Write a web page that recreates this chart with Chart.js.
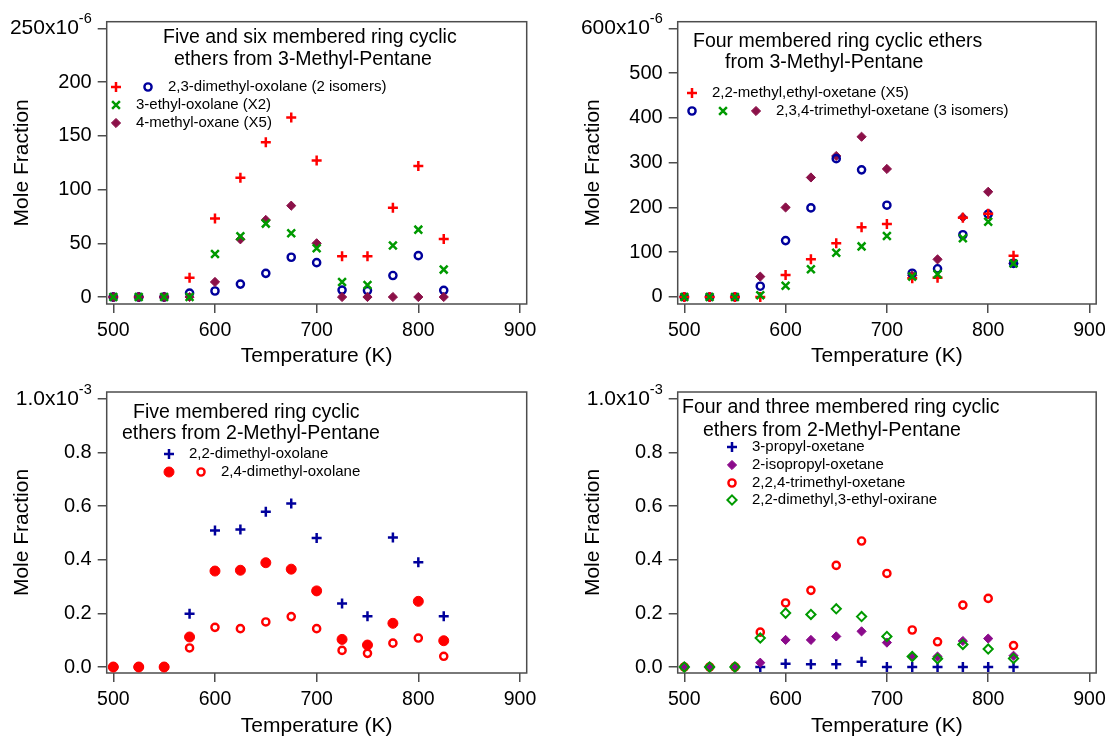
<!DOCTYPE html>
<html>
<head>
<meta charset="utf-8">
<script src="https://cdn.jsdelivr.net/npm/chart.js@4.4.1/dist/chart.umd.min.js"></script>
<style>
  body { margin: 0; background: #fff; }
  #wrap { position: relative; width: 1112px; height: 740px; }
  #wrap canvas { position: absolute; }
</style>
</head>
<body>
<div id="wrap">
  <canvas id="c1" width="556" height="370" style="left:0;top:0"></canvas>
  <canvas id="c2" width="556" height="370" style="left:556px;top:0"></canvas>
  <canvas id="c3" width="556" height="370" style="left:0;top:370px"></canvas>
  <canvas id="c4" width="556" height="370" style="left:556px;top:370px"></canvas>
</div>
<script>
// temperatures (K), shared by all panels
const temps = [500, 525, 550, 575, 600, 625, 650, 675, 700, 725, 750, 775, 800, 825];
const xTicks = [500, 600, 700, 800, 900];

// panel 1 : 3-methyl-pentane, five/six ring (x10^-6)
const p1Dimethyl1 = [0, 0, 0, 18, 73, 111, 144, 167, 127, 38, 38, 83, 122, 54];
const p1Dimethyl2 = [0, 0, 0, 3.7, 5.6, 12, 22, 37, 32, 6.5, 6, 20, 38.5, 6.2];
const p1EthylOxolane = [0, 0, 0, 0, 40, 56.5, 68.3, 59.3, 45.3, 14, 11.2, 48, 62.7, 25.5];
const p1MethylOxane = [0, 0, 0, 0, 14, 53.7, 71.7, 85, 50, 0, 0, 0, 0, 0];
const p1YTicks = [0, 50, 100, 150, 200, 250];

// panel 2 : 3-methyl-pentane, four ring (x10^-6)
const p2MethylEthyl = [0, 0, 0, 0, 49, 84, 120, 156, 163, 42, 43, 177, 186, 92];
const p2Trimethyl1 = [0, 0, 0, 24, 126, 199, 309, 284, 205, 53, 63, 139, 185, 75];
const p2Trimethyl2 = [0, 0, 0, 3.7, 25, 62, 99, 113, 136, 45.5, 51, 131, 168, 75];
const p2Trimethyl3 = [0, 0, 0, 45.5, 200, 267, 315, 358, 286, 48, 84, 178, 235, 75];
const p2YTicks = [0, 100, 200, 300, 400, 500, 600];

// panel 3 : 2-methyl-pentane, five ring (x10^-3)
const p3Dimethyl22 = [0, 0, 0, 0.199, 0.509, 0.513, 0.579, 0.61, 0.481, 0.237, 0.189, 0.483, 0.391, 0.189];
const p3Dimethyl24a = [0, 0, 0, 0.112, 0.358, 0.361, 0.389, 0.365, 0.284, 0.103, 0.082, 0.163, 0.245, 0.098];
const p3Dimethyl24b = [0, 0, 0, 0.071, 0.148, 0.143, 0.168, 0.188, 0.143, 0.062, 0.051, 0.089, 0.108, 0.04];
const lowYTicks = [0, 0.2, 0.4, 0.6, 0.8, 1.0];

// panel 4 : 2-methyl-pentane, four/three ring (x10^-3)
const p4Propyl = [0, 0, 0, 0, 0.012, 0.01, 0.01, 0.02, 0, 0, 0, 0, 0, 0];
const p4Isopropyl = [0, 0, 0, 0.016, 0.101, 0.101, 0.114, 0.133, 0.091, 0.039, 0.039, 0.097, 0.106, 0.042];
const p4Trimethyl = [0, 0, 0, 0.13, 0.239, 0.286, 0.379, 0.47, 0.349, 0.138, 0.094, 0.231, 0.256, 0.08];
const p4Oxirane = [0, 0, 0, 0.108, 0.201, 0.196, 0.217, 0.188, 0.114, 0.039, 0.031, 0.084, 0.067, 0.032];

const RED = '#ff0000', BLUE = '#00009c', GREEN = '#009a00', MAROON = '#8b1048', PURPLE = '#8b0a8b';
const FONT = '"Liberation Sans", Arial, sans-serif';

// marker looks
const mk = {
  plus:    c => ({ pointStyle: 'cross', pointRadius: 5, borderWidth: 2.5, borderColor: c, backgroundColor: c }),
  circle:  c => ({ pointStyle: 'circle', pointRadius: 3.6, borderWidth: 2.4, borderColor: c, backgroundColor: 'rgba(0,0,0,0)' }),
  dot:     c => ({ pointStyle: 'circle', pointRadius: 5, borderWidth: 1, borderColor: c, backgroundColor: c }),
  cross:   c => ({ pointStyle: 'crossRot', pointRadius: 5.5, borderWidth: 2.5, borderColor: c, backgroundColor: c }),
  diamond: c => ({ pointStyle: 'rectRot', pointRadius: 4.6, borderWidth: 1, borderColor: c, backgroundColor: c }),
  odiamond: c => ({ pointStyle: 'rectRot', pointRadius: 4.6, borderWidth: 2, borderColor: c, backgroundColor: 'rgba(0,0,0,0)' })
};

function series(values, look, color) {
  return Object.assign({
    data: temps.map((t, i) => ({ x: t, y: values[i] })),
    showLine: false,
    pointHoverRadius: 5
  }, mk[look](color));
}

// legend marker drawn by hand, same shapes as the datasets
function drawMarker(ctx, look, color, x, y) {
  const s = mk[look](color);
  const r = s.pointRadius;
  ctx.save();
  ctx.lineWidth = s.borderWidth;
  ctx.strokeStyle = s.borderColor;
  ctx.fillStyle = s.backgroundColor;
  ctx.beginPath();
  if (s.pointStyle === 'cross') {
    ctx.moveTo(x - r, y); ctx.lineTo(x + r, y);
    ctx.moveTo(x, y - r); ctx.lineTo(x, y + r);
    ctx.stroke();
  } else if (s.pointStyle === 'crossRot') {
    const d = r * Math.SQRT1_2;
    ctx.moveTo(x - d, y - d); ctx.lineTo(x + d, y + d);
    ctx.moveTo(x - d, y + d); ctx.lineTo(x + d, y - d);
    ctx.stroke();
  } else if (s.pointStyle === 'rectRot') {
    ctx.moveTo(x, y - r); ctx.lineTo(x + r, y); ctx.lineTo(x, y + r); ctx.lineTo(x - r, y);
    ctx.closePath(); ctx.fill(); ctx.stroke();
  } else {
    ctx.arc(x, y, r, 0, Math.PI * 2);
    ctx.fill(); ctx.stroke();
  }
  ctx.restore();
}

const decorPlugin = {
  id: 'decor',
  beforeDatasetsDraw(chart) {
    const { ctx, chartArea: a } = chart;
    ctx.save();
    ctx.strokeStyle = '#4d4d4d';
    ctx.lineWidth = 1.5;
    ctx.strokeRect(a.left, a.top, a.right - a.left, a.bottom - a.top);
    ctx.restore();
  },
  afterDraw(chart) {
    const { ctx } = chart;
    const d = chart.options.plugins.decor;
    ctx.save();
    ctx.fillStyle = '#000';
    ctx.textBaseline = 'middle';
    ctx.textAlign = 'left';
    ctx.font = '19.5px ' + FONT;
    d.title.forEach(l => ctx.fillText(l.text, l.x, l.y));
    ctx.font = '15px ' + FONT;
    d.legend.forEach(row => {
      row.marks.forEach(m => drawMarker(ctx, m.look, m.color, m.x, row.y));
      ctx.fillText(row.text, row.x, row.y);
    });
    // top y tick label with exponent
    const ys = chart.scales.y;
    const top = ys.getPixelForValue(d.topTick);
    const right = ys.right - 9 - 6;
    ctx.font = '14.5px ' + FONT;
    const supW = ctx.measureText(d.exp).width;
    ctx.textAlign = 'left';
    ctx.fillText(d.exp, right - supW, top - 9);
    ctx.font = '21px ' + FONT;
    ctx.textAlign = 'right';
    ctx.fillText(d.mant, right - supW, top);
    ctx.restore();
  }
};

function makePanel(id, datasets, yMin, yMax, yTicks, yFmt, decor, area) {
  const tickFont = { family: FONT, size: 20 };
  return new Chart(document.getElementById(id), {
    type: 'scatter',
    data: { datasets },
    options: {
      responsive: false,
      animation: false,
      layout: { padding: { top: area.top, right: 556 - area.right, left: 0, bottom: 0 } },
      plugins: { legend: { display: false }, tooltip: { enabled: false }, decor },
      scales: {
        x: {
          type: 'linear', min: 493.5, max: 906.6,
          afterBuildTicks: s => { s.ticks = xTicks.map(v => ({ value: v })); },
          afterFit: s => { s.height = 370 - area.bottom; },
          ticks: { color: '#000', font: { family: FONT, size: 19.5 }, padding: 6, maxRotation: 0, autoSkip: false },
          grid: { drawOnChartArea: false, tickLength: 9, color: '#4d4d4d', lineWidth: 1.5 },
          border: { display: false },
          title: { display: true, text: 'Temperature (K)', color: '#000', font: { family: FONT, size: 21 }, padding: 1 }
        },
        y: {
          min: yMin, max: yMax,
          afterBuildTicks: s => { s.ticks = yTicks.map(v => ({ value: v })); },
          afterFit: s => { s.width = area.left; },
          ticks: {
            color: '#000', font: tickFont, padding: 6, autoSkip: false,
            callback: (v, i) => (i === yTicks.length - 1 ? '' : yFmt(v))
          },
          grid: { drawOnChartArea: false, tickLength: 9, color: '#4d4d4d', lineWidth: 1.5 },
          border: { display: false },
          title: { display: true, text: 'Mole Fraction', color: '#000', font: { family: FONT, size: 21 }, padding: area.titlePad }
        }
      }
    },
    plugins: [decorPlugin]
  });
}

const intFmt = v => String(Math.round(v));
const decFmt = v => v.toFixed(1);

makePanel('c1', [
  series(p1EthylOxolane, 'cross', GREEN),
  series(p1MethylOxane, 'diamond', MAROON),
  series(p1Dimethyl2, 'circle', BLUE),
  series(p1Dimethyl1, 'plus', RED)
], -6.5, 256.2, p1YTicks, intFmt, {
  topTick: 250, mant: '250x10', exp: '-6',
  title: [
    { text: 'Five and six membered ring cyclic', x: 163, y: 38 },
    { text: 'ethers from 3-Methyl-Pentane', x: 174, y: 60 }
  ],
  legend: [
    { y: 87, x: 168, text: '2,3-dimethyl-oxolane (2 isomers)', marks: [{ look: 'plus', color: RED, x: 116 }, { look: 'circle', color: BLUE, x: 148 }] },
    { y: 105, x: 136, text: '3-ethyl-oxolane (X2)', marks: [{ look: 'cross', color: GREEN, x: 116 }] },
    { y: 123, x: 136, text: '4-methyl-oxane (X5)', marks: [{ look: 'diamond', color: MAROON, x: 116 }] }
  ]
}, { left: 106.7, right: 526.7, top: 21.7, bottom: 304, titlePad: 9.5 });

makePanel('c2', [
  series(p2Trimethyl2, 'cross', GREEN),
  series(p2MethylEthyl, 'plus', RED),
  series(p2Trimethyl1, 'circle', BLUE),
  series(p2Trimethyl3, 'diamond', MAROON)
], -15.7, 615, p2YTicks, intFmt, {
  topTick: 600, mant: '600x10', exp: '-6',
  title: [
    { text: 'Four membered ring cyclic ethers', x: 137, y: 42 },
    { text: 'from 3-Methyl-Pentane', x: 169, y: 63 }
  ],
  legend: [
    { y: 93, x: 156, text: '2,2-methyl,ethyl-oxetane (X5)', marks: [{ look: 'plus', color: RED, x: 136 }] },
    { y: 111, x: 220, text: '2,3,4-trimethyl-oxetane (3 isomers)', marks: [
      { look: 'circle', color: BLUE, x: 136 }, { look: 'cross', color: GREEN, x: 167 }, { look: 'diamond', color: MAROON, x: 200 }] }
  ]
}, { left: 121.7, right: 541.7, top: 21.7, bottom: 304, titlePad: 24.5 });

makePanel('c3', [
  series(p3Dimethyl24a, 'dot', RED),
  series(p3Dimethyl24b, 'circle', RED),
  series(p3Dimethyl22, 'plus', BLUE)
], -0.0224, 1.026, lowYTicks, decFmt, {
  topTick: 1.0, mant: '1.0x10', exp: '-3',
  title: [
    { text: 'Five membered ring cyclic', x: 133, y: 43 },
    { text: 'ethers from 2-Methyl-Pentane', x: 122, y: 64 }
  ],
  legend: [
    { y: 84, x: 189, text: '2,2-dimethyl-oxolane', marks: [{ look: 'plus', color: BLUE, x: 169 }] },
    { y: 102, x: 221, text: '2,4-dimethyl-oxolane', marks: [{ look: 'dot', color: RED, x: 169 }, { look: 'circle', color: RED, x: 201 }] }
  ]
}, { left: 106.7, right: 526.7, top: 22, bottom: 303, titlePad: 9.5 });

makePanel('c4', [
  series(p4Oxirane, 'odiamond', GREEN),
  series(p4Isopropyl, 'diamond', PURPLE),
  series(p4Trimethyl, 'circle', RED),
  series(p4Propyl, 'plus', BLUE)
], -0.0224, 1.026, lowYTicks, decFmt, {
  topTick: 1.0, mant: '1.0x10', exp: '-3',
  title: [
    { text: 'Four and three membered ring cyclic', x: 126, y: 38 },
    { text: 'ethers from 2-Methyl-Pentane', x: 147, y: 61 }
  ],
  legend: [
    { y: 77, x: 196, text: '3-propyl-oxetane', marks: [{ look: 'plus', color: BLUE, x: 176 }] },
    { y: 95, x: 196, text: '2-isopropyl-oxetane', marks: [{ look: 'diamond', color: PURPLE, x: 176 }] },
    { y: 113, x: 196, text: '2,2,4-trimethyl-oxetane', marks: [{ look: 'circle', color: RED, x: 176 }] },
    { y: 130, x: 196, text: '2,2-dimethyl,3-ethyl-oxirane', marks: [{ look: 'odiamond', color: GREEN, x: 176 }] }
  ]
}, { left: 121.7, right: 541.7, top: 22, bottom: 303, titlePad: 24.5 });
</script>
</body>
</html>
